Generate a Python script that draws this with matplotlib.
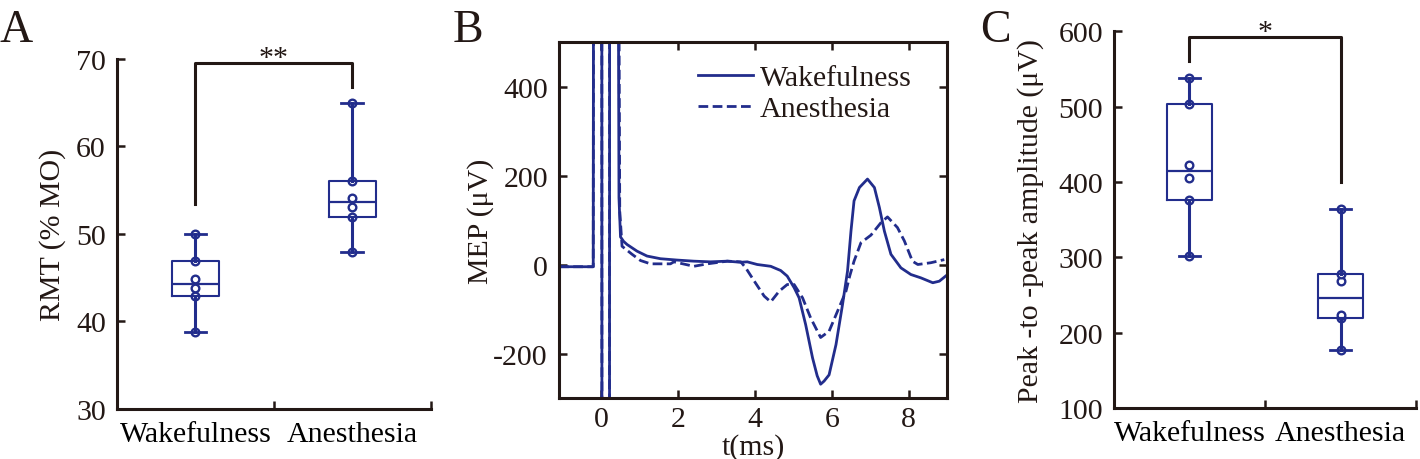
import numpy as np
import matplotlib
matplotlib.use('Agg')
import matplotlib.pyplot as plt

plt.rcParams['font.family'] = ['Liberation Serif', 'DejaVu Serif']
plt.rcParams['font.size'] = 21.5
plt.rcParams['axes.unicode_minus'] = False

# ---------------- data ----------------
groups = ['Wakefulness', 'Anesthesia']

rmt_wake = [38.8, 42.9, 43.8, 44.8, 46.9, 50.0]
rmt_anes = [47.9, 51.9, 53.1, 54.1, 56.0, 65.0]

p2p_wake = [302, 376, 405, 423, 504, 538]
p2p_anes = [177, 220, 224, 268, 278, 364]

mep_t_wake = [-1.1, -0.6, -0.21, -0.19, 0.01, 0.02, 0.21, 0.22, 0.40, 0.46, 0.50, 0.58, 0.67,
              0.93, 1.19, 1.54, 1.97, 2.41, 2.84, 3.28, 3.63, 3.80, 4.06, 4.41, 4.67,
              4.84, 5.02, 5.15, 5.32, 5.50, 5.62, 5.71, 5.80, 5.93, 6.11, 6.28, 6.41,
              6.50, 6.58, 6.72, 6.93, 7.11, 7.24, 7.37, 7.54, 7.80, 8.06, 8.32, 8.63,
              8.80, 8.98]
mep_v_wake = [-5, -5, -5, 2000, 2000, -2000, -2000, 2000, 2000, 150, 62, 52, 45,
              30, 19, 13, 10, 7.5, 6, 7.5, 5, 6, 0, -4, -13.5,
              -26, -52, -75, -135, -210, -250, -269, -262, -248, -180, -90, -15,
              75, 143, 173, 192, 173, 128, 75, 23, -7.5, -22.5, -30, -41,
              -37.5, -25]

mep_t_anes = [-1.1, -0.6, -0.21, -0.19, 0.01, 0.02, 0.21, 0.22, 0.40, 0.48, 0.54, 0.80,
              1.02, 1.28, 1.80, 1.89, 2.41, 2.76, 3.28, 3.63, 3.76, 3.98, 4.24, 4.41,
              4.63, 4.84, 5.02, 5.24, 5.45, 5.71, 5.93, 6.15, 6.37, 6.47, 6.58, 6.76,
              7.02, 7.28, 7.45, 7.71, 7.89, 8.10, 8.24, 8.58, 8.93]
mep_v_anes = [-5, -5, -5, 2000, 2000, -2000, -2000, 2000, 2000, 120, 41, 23,
              9, 1.5, 1.5, 6, -4, 1.5, 7.5, 6, -7.5, -37, -71, -84,
              -60, -45, -45, -75, -120, -164, -150, -105, -60, -25, 7.5, 49,
              66, 94, 107, 83, 53, 7.5, 0, 4, 11]

rmt_ticks = [30, 40, 50, 60, 70]
p2p_ticks = [100, 200, 300, 400, 500, 600]
mep_xticks = [0, 2, 4, 6, 8]
mep_yticks = [-200, 0, 200, 400]

navy = '#222d8c'
ink = '#231815'

fig = plt.figure(figsize=(14.2, 4.6), dpi=100)


def style_axes(ax):
    ax.tick_params(direction='in', length=6, width=1.8, colors=ink, labelcolor=ink)
    for s in ax.spines.values():
        s.set_linewidth(2.2)
        s.set_color(ink)


def hazen_stats(vals):
    q1, med, q3 = np.percentile(vals, [25, 50, 75], method='hazen')
    return dict(med=med, q1=q1, q3=q3, whislo=min(vals), whishi=max(vals), fliers=[])


def box_panel(ax, wake, anes, ylim, yticks, ylabel, bracket, star, star_y):
    stats = [hazen_stats(wake), hazen_stats(anes)]
    ax.bxp(stats, positions=[1, 2], widths=0.3, capwidths=0.14, showfliers=False,
           boxprops=dict(color=navy, linewidth=1.5),
           whiskerprops=dict(color=navy, linewidth=2.2),
           capprops=dict(color=navy, linewidth=2.0),
           medianprops=dict(color=navy, linewidth=1.6), zorder=2)
    for pos, vals in zip([1, 2], [wake, anes]):
        ax.plot([pos] * len(vals), vals, 'o', ms=5.5, mfc='white', mec=navy, mew=1.7,
                zorder=1.9)
    ax.set_xlim(0.5, 2.5)
    ax.set_ylim(*ylim)
    ax.set_yticks(yticks)
    ax.set_xticks([0.5, 1.5, 2.5])
    ax.set_xticklabels([])
    ax.set_xticks([1, 2], minor=True)
    ax.set_xticklabels(groups, minor=True)
    style_axes(ax)
    ax.tick_params(axis='x', which='minor', length=0, pad=9)
    ax.tick_params(axis='y', pad=8)
    ax.spines['top'].set_visible(False)
    ax.spines['right'].set_visible(False)
    ax.set_ylabel(ylabel, color=ink)
    ax.plot([1, 1, 2, 2], bracket, color=ink, lw=2.2, clip_on=False)
    ax.text(1.5, star_y, star, ha='center', va='baseline', fontsize=21.5, color=ink,
            clip_on=False)


# Panel A
axA = fig.add_axes([0.0824, 0.1087, 0.2211, 0.7609])
box_panel(axA, rmt_wake, rmt_anes, (30, 70), rmt_ticks, 'RMT (% MO)',
          [53.4, 69.5, 69.5, 66.8], '**', 69.3)
axA.yaxis.set_label_coords(-0.162, 0.5)

# Panel B
axB = fig.add_axes([0.3937, 0.1326, 0.2732, 0.7739])
axB.plot(mep_t_wake, mep_v_wake, color=navy, lw=2.0, label='Wakefulness')
axB.plot(mep_t_anes, mep_v_anes, color=navy, lw=2.0, ls=(0, (3.5, 1.6)), label='Anesthesia')
axB.set_xlim(-1.1, 9.0)
axB.set_ylim(-300, 500)
axB.set_xticks(mep_xticks)
axB.set_yticks(mep_yticks)
style_axes(axB)
axB.tick_params(top=True, right=True)
axB.tick_params(axis='y', pad=8)
axB.tick_params(axis='x', pad=6)
axB.set_ylabel('MEP (μV)', color=ink)
axB.set_xlabel('t(ms)', color=ink)
axB.yaxis.set_label_coords(-0.168, 0.5)
axB.xaxis.set_label_coords(0.5, -0.098)
leg = axB.legend(loc='upper left', bbox_to_anchor=((698 - 559) / 388, 0.938), frameon=False,
                 handlelength=1.85, handletextpad=0.23, labelspacing=0.14, borderpad=0,
                 borderaxespad=0, fontsize=21.5)
for t in leg.get_texts():
    t.set_color(ink)

# Panel C
axC = fig.add_axes([0.7845, 0.1109, 0.2127, 0.8189])
box_panel(axC, p2p_wake, p2p_anes, (100, 600), p2p_ticks, 'Peak -to -peak amplitude (μV)',
          [561, 593, 593, 400], '*', 590)
axC.yaxis.set_label_coords(-0.232, 0.5)

# panel letters
fig.text(0.0, 1 - 42 / 460, 'A', fontsize=33, va='baseline', ha='left', color=ink)
fig.text(453 / 1420, 1 - 42 / 460, 'B', fontsize=33, va='baseline', ha='left', color=ink)
fig.text(980 / 1420, 1 - 42 / 460, 'C', fontsize=33, va='baseline', ha='left', color=ink)

fig.savefig('out.png', dpi=100)
